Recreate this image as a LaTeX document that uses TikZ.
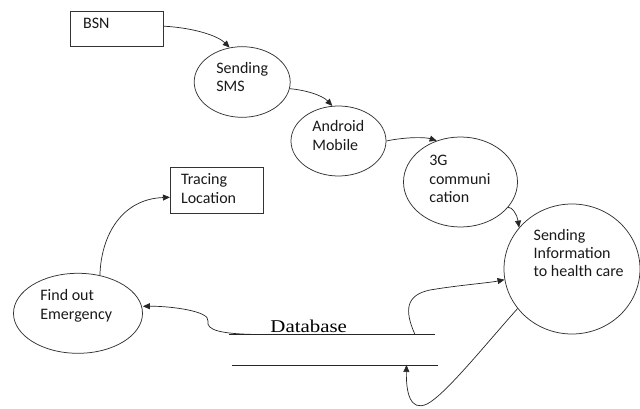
\documentclass[tikz,border=0pt]{standalone}
\usepackage{fontspec}
\setmainfont{Carlito}
\newfontfamily\dbfont{Liberation Serif}
\usetikzlibrary{shapes.geometric,arrows.meta}
\begin{document}
\begin{tikzpicture}[x=1pt,y=-1pt,
  line width=0.75pt,
  shapeline/.style={draw=black!80},
  procbox/.style={shapeline,rectangle,inner sep=0pt},
  proc/.style={shapeline,ellipse,inner sep=0pt},
  % labels are placed by the baseline of their last line
  lbl/.style={anchor=base west,inner sep=0pt,align=left,
    font=\fontsize{16}{18.3}\selectfont,text=black!90},
  flow/.style={draw=black!85,line width=0.7pt,
    -{Triangle[length=7pt,width=6pt]}},
  store/.style={draw=black!85,line width=0.8pt}]
\useasboundingbox (0,0) rectangle (640,409);

% external entities
\node[procbox,minimum width=93pt,minimum height=35pt] (bsn) at (117.3,29.2) {};
\node[procbox,minimum width=93pt,minimum height=46pt] (trace) at (216.8,190.3) {};

% processes
\node[proc,minimum width=96pt,minimum height=70.6pt] (sms) at (242.2,82) {};
\node[proc,minimum width=95pt,minimum height=70pt] (android) at (338.5,141) {};
\node[proc,minimum width=114pt,minimum height=90pt] (g3) at (460.5,182) {};
\node[proc,minimum width=136pt,minimum height=130pt] (info) at (572,269) {};
\node[proc,minimum width=129pt,minimum height=80pt] (find) at (78,313.3) {};

% labels
\node[lbl] (bsnT) at (82.7,29) {BSN};
\node[lbl] (traceT) at (180.7,203.3) {Tracing\\Location};
\node[lbl] (smsT) at (216,92) {Sending\\SMS};
\node[lbl] (androidT) at (312,150) {Android\\Mobile};
\node[lbl] (g3T) at (429,202.3) {3G\\communi\\cation};
\node[lbl] (infoT) at (533.3,276.7) {Sending\\Information\\to health care};
\node[lbl] (findT) at (40,319) {Find out\\Emergency};

% data store
\coordinate (dbTopL) at (229,334.5);
\coordinate (dbTopR) at (435,334.5);
\coordinate (dbBotL) at (232,365);
\coordinate (dbBotR) at (438,365);
\draw[store] (dbTopL) -- (dbTopR);
\draw[store] (dbBotL) -- (dbBotR);
\node[anchor=base west,inner sep=0pt,xscale=1.16,
  font=\dbfont\fontsize{18}{20}\selectfont] (dbT) at (270,332.5) {Database};
\coordinate (dbOut) at (258,334.5);
\coordinate (dbUp) at (415,334.5);
\coordinate (dbIn) at (406.5,365);

% data flows
\draw[flow] ([yshift=3pt]bsn.east) .. controls (195,28) and (218,36) .. (sms.110);
\draw[flow] (sms.-8) .. controls (305,90) and (322,95) .. (android.100);
\draw[flow] (android.east) .. controls (405,137) and (425,137) .. (g3.120);
\draw[flow] (g3.-28) .. controls (512,207) and (517,214) .. (info.142);
\draw[flow] (find.60) .. controls (101,235) and (122,199) .. ([yshift=-7pt]trace.west);
\draw[flow] (dbOut) .. controls (220,334) and (206,330) .. (208,321)
  .. controls (210,311) and (170,306) .. ([yshift=7pt]find.east);
\draw[flow] (dbUp) .. controls (404,310) and (406,295) .. (430,290)
  .. controls (460,285) and (488,283) .. (info.189);
\draw[flow] (info.216) .. controls (485,345) and (445,395) .. (427,404)
  .. controls (410,412) and (406,392) .. (dbIn);
\end{tikzpicture}
\end{document}
